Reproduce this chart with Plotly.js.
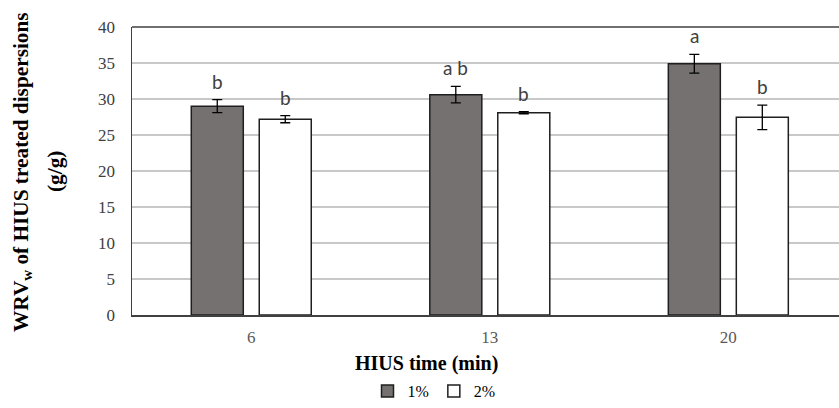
<!DOCTYPE html>
<html>
<head>
<meta charset="utf-8">
<script src="https://cdn.plot.ly/plotly-3.0.1.min.js"></script>
<style>html,body{margin:0;padding:0;background:#fff;}#chart{width:839px;height:408px;}</style>
</head>
<body>
<div id="chart"></div>
<script>
const categories = ['6', '13', '20'];
const series1Name = '1%';
const series2Name = '2%';
const series1Values = [29.0, 30.6, 34.9];
const series1Errors = [0.9, 1.15, 1.3];
const series2Values = [27.2, 28.1, 27.45];
const series2Errors = [0.5, 0.15, 1.7];
const series1Letters = ['b', 'a b', 'a'];
const series2Letters = ['b', 'b', 'b'];
const yTicks = [0, 5, 10, 15, 20, 25, 30, 35, 40];
const xTitle = 'HIUS time (min)';
const yTitleLine1 = 'WRV<sub>w</sub> of HIUS treated dispersions';
const yTitleLine2 = '(g/g)';

const serif = 'Liberation Serif';
// plot box in pixels (for placing titles outside the plot)
const PL = 132, PW = 707, PB = 315, PH = 288;
const px2x = p => (p - PL) / PW;
const px2y = p => (PB - p) / PH;

const traces = [
  {
    type: 'bar', name: series1Name, x: categories, y: series1Values,
    marker: {color: '#767171', line: {color: '#1f1f1f', width: 1.5}},
    error_y: {type: 'data', array: series1Errors, visible: true, color: '#000', thickness: 1.3, width: 5},
    hoverinfo: 'skip'
  },
  {
    type: 'bar', name: series2Name, x: categories, y: series2Values,
    marker: {color: '#ffffff', line: {color: '#1f1f1f', width: 1.5}},
    error_y: {type: 'data', array: series2Errors, visible: true, color: '#000', thickness: 1.3, width: 5},
    hoverinfo: 'skip'
  }
];

const letterFont = {family: 'Lato', size: 19, color: '#404040'};
const annotations = [];
categories.forEach((c, i) => {
  annotations.push({x: i, y: series1Values[i] + series1Errors[i], text: series1Letters[i], xref: 'x', yref: 'y',
    showarrow: false, yanchor: 'bottom', yshift: 5, xshift: -34, font: letterFont});
  annotations.push({x: i, y: series2Values[i] + series2Errors[i], text: series2Letters[i], xref: 'x', yref: 'y',
    showarrow: false, yanchor: 'bottom', yshift: 5, xshift: 34, font: letterFont});
});
annotations.push({x: px2x(426), xref: 'paper', y: px2y(363), yref: 'paper', text: '<b>' + xTitle + '</b>',
  showarrow: false, xanchor: 'center', yanchor: 'middle', font: {family: serif, size: 20, color: '#000'}});
annotations.push({x: px2x(22), xref: 'paper', y: px2y(172), yref: 'paper', text: '<b>' + yTitleLine1 + '</b>',
  showarrow: false, textangle: -90, xanchor: 'center', yanchor: 'middle', font: {family: serif, size: 21.3, color: '#000'}});
annotations.push({x: px2x(55), xref: 'paper', y: px2y(172), yref: 'paper', text: '<b>' + yTitleLine2 + '</b>',
  showarrow: false, textangle: -90, xanchor: 'center', yanchor: 'middle', font: {family: serif, size: 21.3, color: '#000'}});

const layout = {
  width: 839, height: 408,
  margin: {l: PL, r: 0, t: 27, b: 93, pad: 0, autoexpand: false},
  paper_bgcolor: '#fff', plot_bgcolor: '#fff',
  barmode: 'group', bargap: 0.43, bargroupgap: 0.235,
  showlegend: true,
  legend: {orientation: 'h', x: px2x(434), xanchor: 'center', y: px2y(391), yanchor: 'middle',
    font: {family: serif, size: 16, color: '#000'}, itemwidth: 30, tracegroupgap: 0},
  xaxis: {
    type: 'category', range: [-0.5, 2.464],
    showline: true, linecolor: '#404040', linewidth: 1.5, mirror: false,
    showgrid: false, ticks: '', zeroline: false, ticklabelstandoff: 6,
    tickfont: {family: serif, size: 17, color: '#595959'}
  },
  yaxis: {
    range: [0, 40], tickvals: yTicks, ticktext: yTicks.map(String),
    showline: true, linecolor: '#404040', linewidth: 1.5,
    showgrid: true, gridcolor: '#c8c8c8', gridwidth: 1.3, zeroline: false, ticks: '',
    tickfont: {family: serif, size: 17, color: '#404040'}, ticklabelstandoff: 12
  },
  shapes: [
    {type: 'line', xref: 'paper', yref: 'paper', x0: 0, x1: 1, y0: 1, y1: 1, line: {color: '#404040', width: 1.5}}
  ],
  annotations: annotations
};

Plotly.newPlot('chart', traces, layout, {staticPlot: true, displayModeBar: false});
</script>
</body>
</html>
